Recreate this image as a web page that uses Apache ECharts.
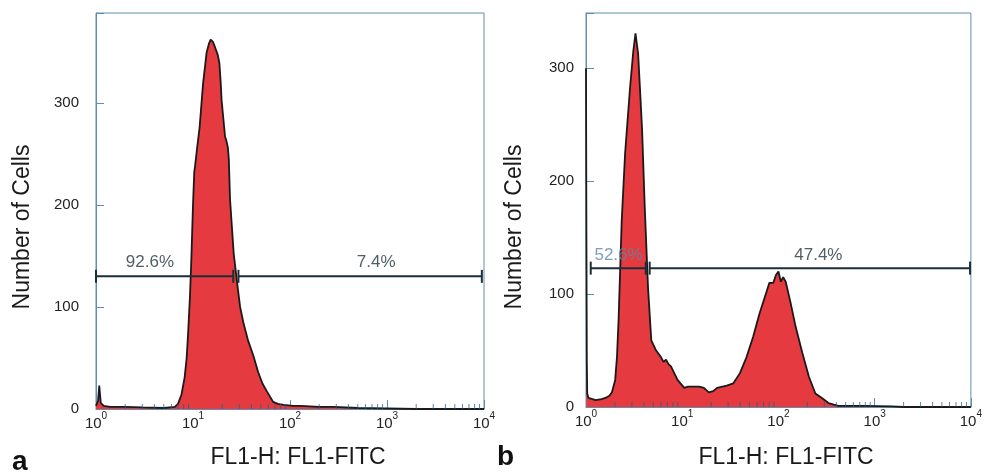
<!DOCTYPE html>
<html><head><meta charset="utf-8">
<script src="https://cdn.jsdelivr.net/npm/echarts@6/dist/echarts.min.js"></script>
<style>html,body{margin:0;padding:0;background:#fff}#c{width:985px;height:473px}</style>
</head><body><div id="c"></div>
<script>
// ---------- data ----------
const xTickValues = [1, 10, 100, 1000, 10000];
const yTickValues = [0, 100, 200, 300];

// Panel a histogram (FL1 intensity, number of cells)
const aX = [1.0, 1.05, 1.08, 1.12, 1.2, 1.4, 2, 3, 5, 6.5, 7.0, 7.6, 8.2, 8.6, 8.9, 9.3, 9.6, 10.0, 10.3, 10.5, 11.0, 11.7, 12.7, 13.8, 14.6, 15.2, 16.0, 16.8, 18.0, 18.7, 19.3, 19.7, 21.4, 22.2, 22.9, 23.4, 24.1, 26.3, 28.3, 30.6, 33, 37, 42, 47, 52, 58, 67, 75, 86, 108, 128, 200, 283, 500, 1000, 2000, 10000];
const aY = [3, 8, 23, 6, 3, 2, 2, 1.5, 1, 2, 5, 14, 31, 50, 74, 110, 145, 200, 232, 238, 255, 276, 319, 349, 358, 362, 360, 355, 347, 339, 320, 303, 267, 262, 256, 245, 205, 152, 126, 100, 85, 67, 52, 36, 25, 17, 7, 5, 4, 3, 3, 2, 2, 1, 0.5, 0, 0];

// Panel b histogram
const bX = [1.0, 1.01, 1.02, 1.03, 1.06, 1.26, 1.45, 1.59, 1.75, 1.86, 2.01, 2.1, 2.18, 2.35, 2.55, 2.87, 3.1, 3.27, 3.48, 3.65, 3.83, 4.08, 4.41, 4.77, 5.36, 6.03, 6.4, 6.79, 7.2, 7.64, 8.94, 10.5, 11.5, 13.3, 15, 16.8, 18.9, 21, 23, 29, 34, 39.8, 46.5, 54.5, 63.7, 74.5, 80.5, 88.5, 94.2, 100, 106, 112, 119, 134, 151, 177, 207, 242, 283, 331, 419, 800, 1500, 2000, 10000];
const bY = [300, 150, 40, 12, 8, 6, 7, 8, 10, 13, 24, 45, 77, 165, 225, 283, 315, 331, 313, 280, 245, 177, 106, 59, 50, 44, 40, 42, 38, 36, 24, 17, 18, 18, 18, 17, 13, 14, 17, 19, 21, 30, 44, 62, 83, 101, 110, 110, 117, 120, 111, 115, 111, 92, 71, 48, 27, 12, 8, 3.5, 1, 1, 0.5, 0, 0];

// Gates (markers)
const aGateStart = [1.0, 29.4];
const aGateEnd = [26, 9500];
const aGateLevel = 130;
const aGateText = ['92.6%', '7.4%'];
const aGateTextX = [3.6, 773];

const bGateStart = [1.12, 4.59];
const bGateEnd = [4.18, 9800];
const bGateLevel = 123;
const bGateText = ['52.6%', '47.4%'];
const bGateTextX = [2.18, 260];

const yMaxA = 388;
const yMaxB = 349;

// ---------- styling ----------
const FONT = 'Liberation Sans, Arial, Helvetica, sans-serif';
const FRAME = '#5f8fae';
const RED = '#e53a3f';
const DARK = '#1c2e3a';

const minorTicks = [];
for (let k = 0; k < 4; k++) for (let m = 2; m <= 9; m++) minorTicks.push([m * Math.pow(10, k)]);

function xAxisCfg(gi) {
  return {
    type: 'log', logBase: 10, min: 1, max: 10000, gridIndex: gi,
    axisLine: { show: true, lineStyle: { color: FRAME, width: 1 } },
    axisTick: { show: true, inside: true, length: 9, lineStyle: { color: FRAME } },
    splitLine: { show: false },
    axisLabel: {
      margin: 2,
      formatter: v => '{b|10}{s|' + Math.round(Math.log10(v)) + '}',
      rich: {
        b: { fontSize: 15, fontFamily: FONT, color: '#222', lineHeight: 20, verticalAlign: 'bottom' },
        s: { fontSize: 10, fontFamily: FONT, color: '#222', lineHeight: 11, verticalAlign: 'top' }
      }
    }
  };
}
function yAxisCfg(gi, max, margin) {
  return {
    type: 'value', min: 0, max: max, interval: 100, gridIndex: gi,
    axisLine: { show: true, lineStyle: { color: FRAME, width: 1 } },
    axisTick: { show: true, inside: true, length: 8, lineStyle: { color: FRAME } },
    splitLine: { show: false },
    axisLabel: {
      margin: margin, fontSize: 15, fontFamily: FONT, color: '#222',
      formatter: v => (yTickValues.indexOf(v) >= 0 ? String(v) : '')
    }
  };
}
function histSeries(gi, xs, ys) {
  return {
    type: 'line', xAxisIndex: gi, yAxisIndex: gi, z: 2,
    data: xs.map((x, i) => [x, ys[i]]),
    symbol: 'none', smooth: false,
    lineStyle: { color: '#1a1a1a', width: 1.8 },
    areaStyle: { color: RED, opacity: 1 },
    silent: true
  };
}
function minorSeries(gi) {
  return {
    type: 'custom', xAxisIndex: gi, yAxisIndex: gi, z: 3, silent: true,
    data: minorTicks,
    renderItem: (params, api) => {
      const p = api.coord([api.value(0), 0]);
      return { type: 'line', shape: { x1: p[0], y1: p[1], x2: p[0], y2: p[1] - 5 },
        style: { stroke: 'rgba(40,95,135,0.75)', lineWidth: 1 } };
    }
  };
}
function gateSeries(gi, starts, ends, level) {
  return starts.map((s, i) => ({
    type: 'line', xAxisIndex: gi, yAxisIndex: gi, z: 4, silent: true,
    data: [[s, level], [ends[i], level]],
    symbol: 'rect', symbolSize: [2, 13], showSymbol: true,
    itemStyle: { color: DARK },
    lineStyle: { color: DARK, width: 2 }
  }));
}
function gateLabelSeries(gi, xs, texts, level, colors, dist) {
  return {
    type: 'scatter', xAxisIndex: gi, yAxisIndex: gi, z: 5, silent: true,
    symbolSize: 0,
    data: xs.map((x, i) => ({ value: [x, level], name: texts[i],
      label: { color: colors[i] } })),
    label: { show: true, position: 'top', distance: dist, formatter: '{b}',
      fontSize: 17, fontFamily: FONT }
  };
}

const chart = echarts.init(document.getElementById('c'), null, { renderer: 'canvas' });
chart.setOption({
  animation: false,
  backgroundColor: '#fff',
  grid: [
    { left: 96, top: 13, width: 388, height: 396, show: true, borderColor: FRAME, borderWidth: 1, containLabel: false },
    { left: 586, top: 13, width: 393, height: 394, show: true, borderColor: FRAME, borderWidth: 1, containLabel: false }
  ],
  xAxis: [xAxisCfg(0), xAxisCfg(1)],
  yAxis: [yAxisCfg(0, yMaxA, 17), yAxisCfg(1, yMaxB, 12)],
  series: [
    histSeries(0, aX, aY),
    histSeries(1, bX, bY),
    minorSeries(0),
    minorSeries(1),
    ...gateSeries(0, aGateStart, aGateEnd, aGateLevel),
    ...gateSeries(1, bGateStart, bGateEnd, bGateLevel),
    gateLabelSeries(0, aGateTextX, aGateText, aGateLevel, ['#23343f', '#23343f'], 6),
    gateLabelSeries(1, bGateTextX, bGateText, bGateLevel, ['#5f86a2', '#23343f'], 4)
  ],
  graphic: [
    { type: 'text', x: 23, y: 227, rotation: Math.PI / 2,
      style: { text: 'Number of Cells', font: '23px ' + FONT, fill: '#1a1a1a', align: 'center', verticalAlign: 'middle' } },
    { type: 'text', x: 515, y: 227, rotation: Math.PI / 2,
      style: { text: 'Number of Cells', font: '23px ' + FONT, fill: '#1a1a1a', align: 'center', verticalAlign: 'middle' } },
    { type: 'text', x: 298, y: 458,
      style: { text: 'FL1-H: FL1-FITC', font: '23px ' + FONT, fill: '#1a1a1a', align: 'center', verticalAlign: 'middle' } },
    { type: 'text', x: 786, y: 458,
      style: { text: 'FL1-H: FL1-FITC', font: '23px ' + FONT, fill: '#1a1a1a', align: 'center', verticalAlign: 'middle' } },
    { type: 'text', x: 12, y: 462,
      style: { text: 'a', font: 'bold 28px ' + FONT, fill: '#111', align: 'left', verticalAlign: 'middle' } },
    { type: 'text', x: 497, y: 457,
      style: { text: 'b', font: 'bold 28px ' + FONT, fill: '#111', align: 'left', verticalAlign: 'middle' } }
  ]
});
</script></body></html>
